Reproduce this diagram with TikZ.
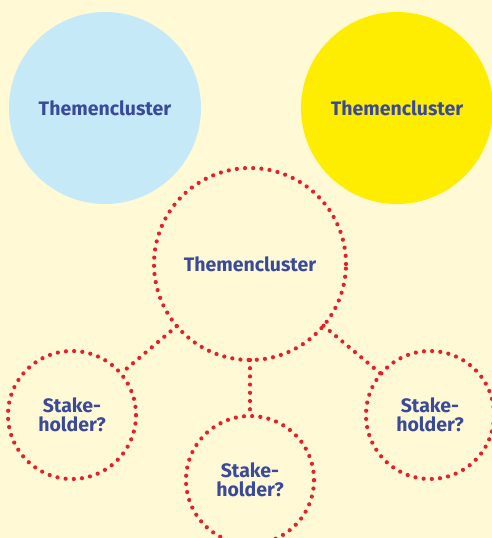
\documentclass[tikz,border=0pt]{standalone}
\usepackage{fontspec}
\setmainfont{Fira Sans}
\definecolor{paper}{HTML}{FFF9D6}
\definecolor{skyfill}{HTML}{C6E9F8}
\definecolor{sunfill}{HTML}{FFED00}
\definecolor{dotred}{HTML}{E5202A}
\definecolor{inkblue}{HTML}{3A4A9B}
\tikzset{
  label text/.style={text=inkblue, font=\bfseries\fontsize{19.5}{19.5}\selectfont, align=center, inner sep=0pt},
  dotline/.style={draw=dotred, line width=4.2pt, line cap=round, dash pattern=on 0pt off 8.2pt},
  cluster/.style={circle, minimum size=192pt, inner sep=0pt, outer sep=0pt, label text},
  holder/.style={circle, minimum size=128pt, inner sep=0pt, outer sep=0pt, label text, dotline},
}
\begin{document}
\begin{tikzpicture}[x=1pt,y=-1pt]
  \fill[paper] (0,0) rectangle (492,538);
  \useasboundingbox (0,0) rectangle (492,538);
  \clip (0,0) rectangle (492,538);

  % two filled topic clusters
  \node[cluster, fill=skyfill] (blue) at (105,108) {Themencluster};
  \node[cluster, fill=sunfill] (yellow) at (397,108) {Themencluster};

  % central cluster with its stakeholders
  \node[cluster, dotline] (hub) at (250,264) {Themencluster};
  \node[holder] (sleft) at (72,415) {Stake-\\holder?};
  \node[holder] (smid) at (250,480) {Stake-\\holder?};
  \node[holder] (sright) at (430,415) {Stake-\\holder?};

  \draw[dotline] (hub) -- (sleft);
  \draw[dotline] (hub) -- (smid);
  \draw[dotline] (hub) -- (sright);
\end{tikzpicture}
\end{document}
